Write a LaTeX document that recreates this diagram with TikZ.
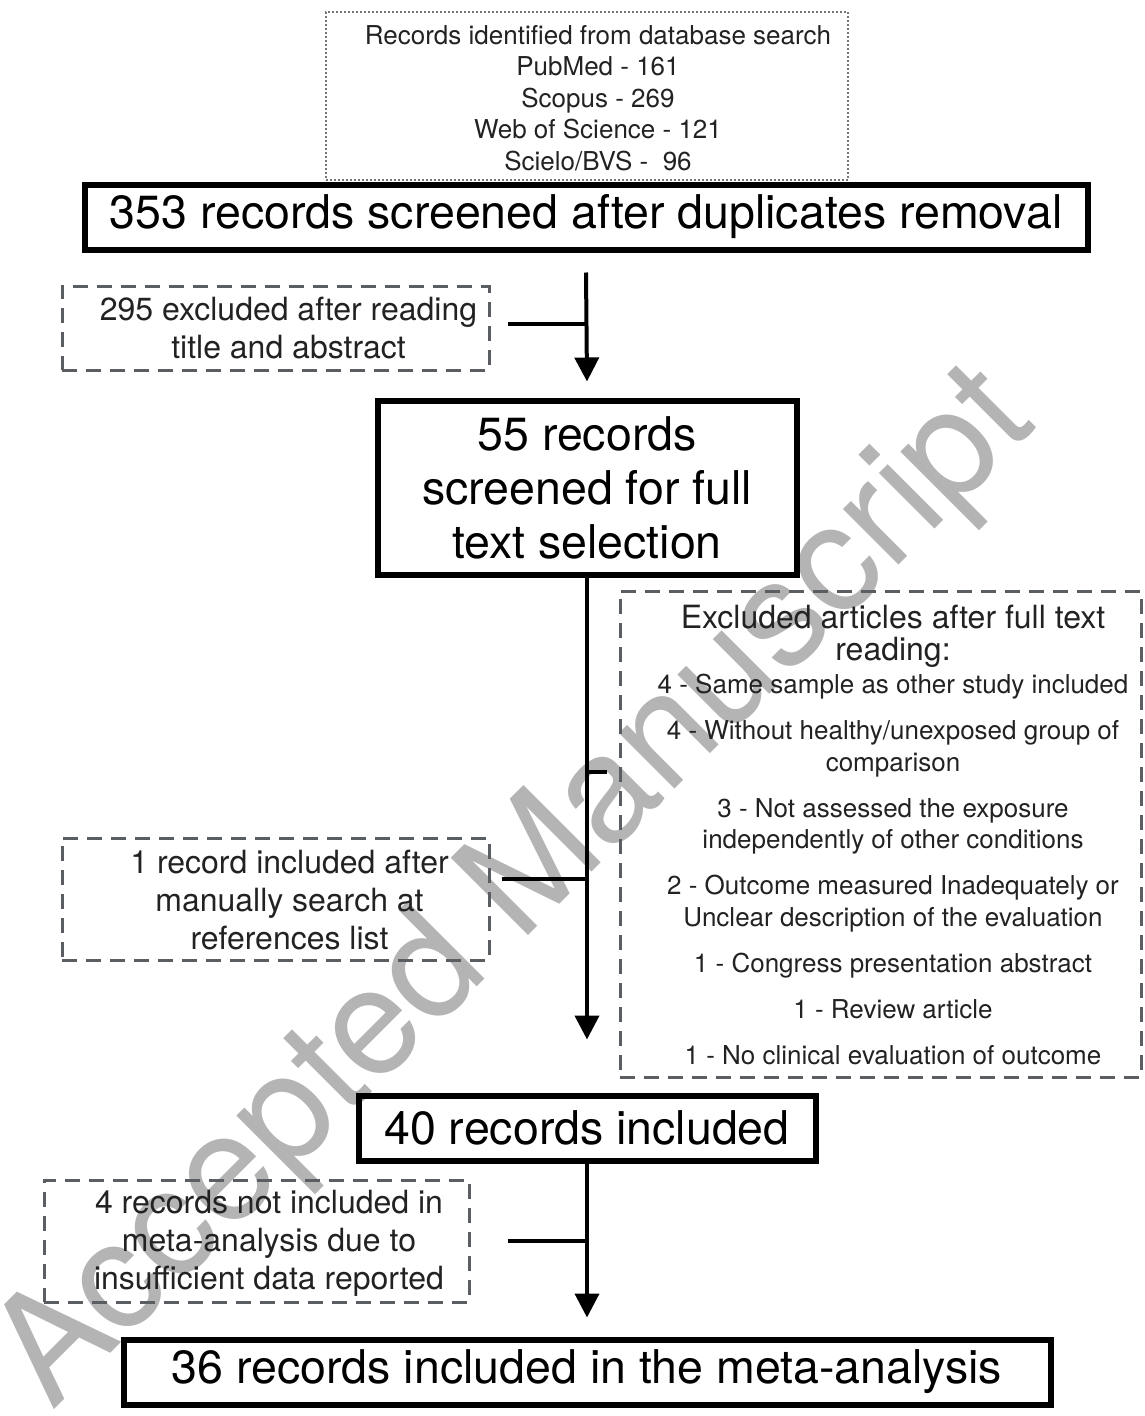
\documentclass[tikz,border=0pt]{standalone}
\usepackage{fontspec}
\setmainfont{TeX Gyre Heros}
\usetikzlibrary{arrows.meta}
\definecolor{dgray}{HTML}{5A5E63}
\definecolor{wmgray}{HTML}{B4B4B4}
\definecolor{txtc}{HTML}{222222}
\begin{document}
\begin{tikzpicture}[x=1pt,y=-1pt,
  bigbox/.style={draw=black, line width=6pt, inner sep=0pt, align=center, text=black,
    font=\fontsize{46.5}{54}\selectfont},
  dbox/.style={draw=dgray, line width=3pt, dash pattern=on 15pt off 9pt, inner sep=0pt},
  dotbox/.style={draw=dgray!85, line width=2pt, dash pattern=on 2pt off 2pt, inner sep=0pt},
  sidetxt/.style={align=center, inner sep=0pt, text=txtc, font=\fontsize{32}{38}\selectfont},
  srctxt/.style={align=center, inner sep=0pt, text=txtc, font=\fontsize{26}{31.5}\selectfont},
  listtxt/.style={align=center, inner sep=0pt, text=txtc, font=\fontsize{26}{31.5}\selectfont},
  arr/.style={draw=black, line width=4pt, -{Triangle[length=24pt,width=24pt]}},
  tick/.style={draw=black, line width=4pt},
  wmark/.style={text=wmgray, inner sep=0pt, font=\fontsize{150}{150}\selectfont}
]
\useasboundingbox (0,0) rectangle (1144,1416);
% watermark
\node[wmark, anchor=base west, rotate=45] (wm) at (52,1412) {Accepted Manuscript};

% source box
\node[dotbox, minimum width=522pt, minimum height=168pt] (src) at (587,96) {};
\node[srctxt] (srct) at (598,98) {Records identified from database search\\PubMed - 161\\Scopus - 269\\Web of Science - 121\\Scielo/BVS -~~96};

% main boxes
\node[bigbox, minimum width=1003pt, minimum height=65pt] (scr) at (586,217) {353 records screened after duplicates removal};
\node[bigbox, minimum width=419pt, minimum height=174pt] (full) at (587,487.5) {55 records\\screened for full\\text selection};
\node[bigbox, minimum width=457pt, minimum height=65pt] (inc) at (587,1128) {40 records included};
\node[bigbox, minimum width=927pt, minimum height=65pt] (meta) at (587,1372) {36 records included in the meta-analysis};

% side boxes
\node[dbox, minimum width=427pt, minimum height=84pt] (ex1) at (275.5,328) {};
\node[sidetxt] (ex1t) at (288.5,328) {295 excluded after reading\\title and abstract};

\node[dbox, minimum width=521pt, minimum height=486pt] (ex2) at (880.5,834) {};
\node[listtxt] (ex2t) at (893,835) {{\fontsize{32}{37}\selectfont Excluded articles after full text}\\{\fontsize{32}{37}\selectfont reading:}\\[2pt]
4 - Same sample as other study included\\[14.5pt]
4 - Without healthy/unexposed group of\\comparison\\[14.5pt]
3 - Not assessed the exposure\\independently of other conditions\\[14.5pt]
2 - Outcome measured Inadequately or\\Unclear description of the evaluation\\[14.5pt]
1 - Congress presentation abstract\\[14.5pt]
1 - Review article\\[14.5pt]
1 - No clinical evaluation of outcome};

\node[dbox, minimum width=427pt, minimum height=122pt] (add) at (275.5,899) {};
\node[sidetxt] (addt) at (289.5,900) {1 record included after\\manually search at\\references list};

\node[dbox, minimum width=425pt, minimum height=122pt] (ex3) at (256.5,1241) {};
\node[sidetxt] (ex3t) at (269,1243) {4 records not included in\\meta-analysis due to\\insufficient data reported};

% arrows
\draw[arr] ([yshift=-20pt]scr.south) -- ([yshift=16pt]full.north);
\draw[arr] (full.south) -- ([yshift=53pt]inc.north);
\draw[arr] (inc.south) -- ([yshift=19pt]meta.north);

% ticks
\coordinate (j1) at (588,324);
\coordinate (j2) at (587,772);
\coordinate (j3) at (587,879);
\coordinate (j4) at (588,1241);
\draw[tick] ([xshift=17pt]ex1.east |- j1) -- (j1);
\draw[tick] (j2) -- ([xshift=-12pt]ex2.west |- j2);
\draw[tick] ([xshift=11pt]add.east |- j3) -- (j3);
\draw[tick] ([xshift=37pt]ex3.east |- j4) -- (j4);
\end{tikzpicture}
\end{document}
